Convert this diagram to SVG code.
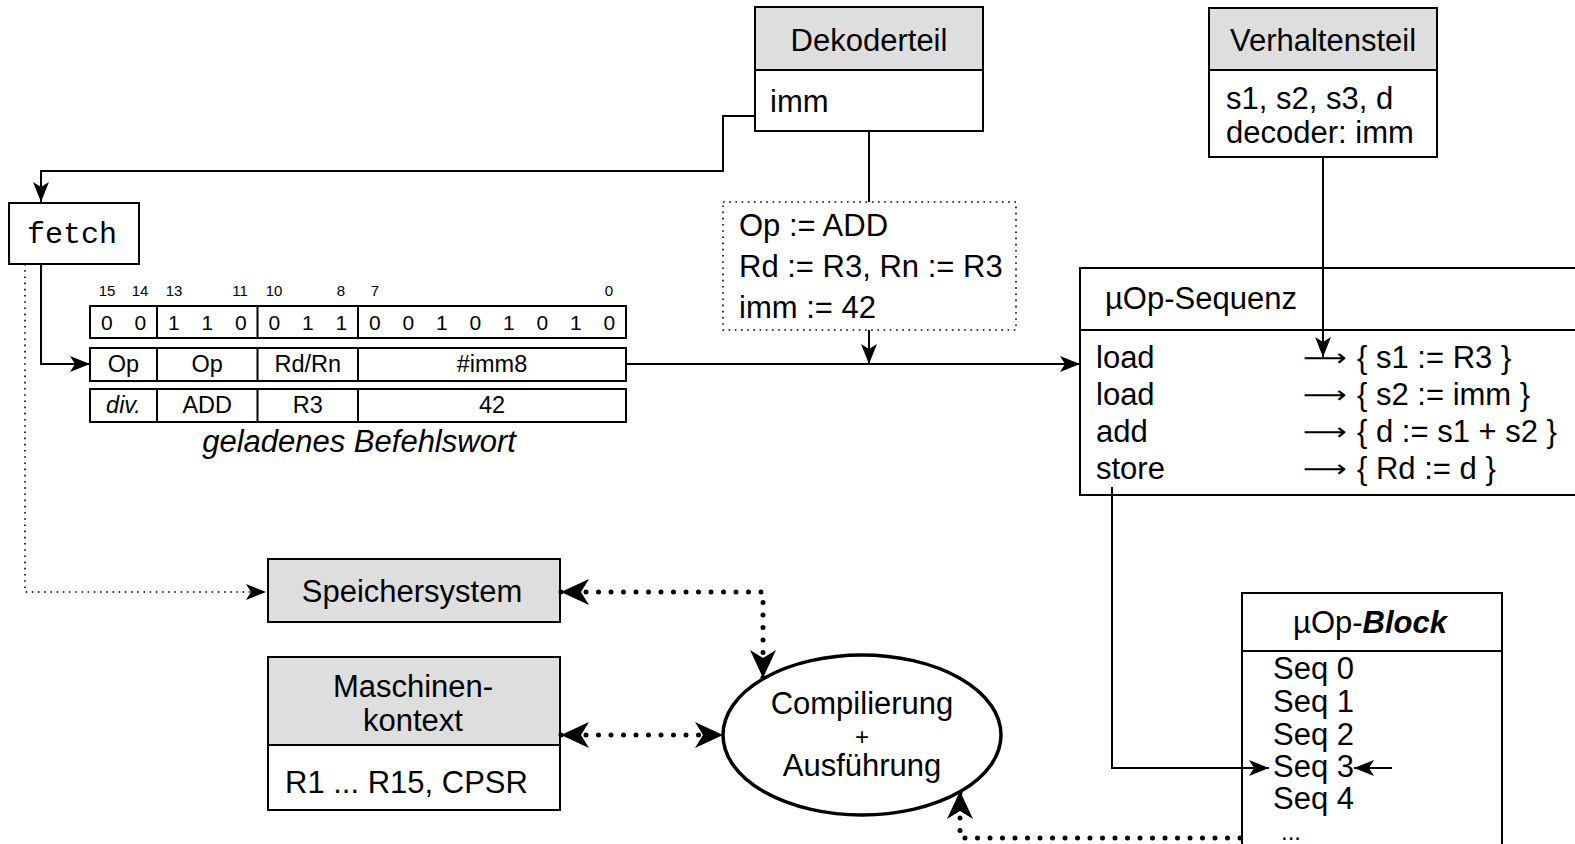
<svg xmlns="http://www.w3.org/2000/svg" width="1575" height="844" viewBox="0 0 1575 844">
<style>
text{font-family:"Liberation Sans",Arial,sans-serif;font-size:31px;fill:#000}
.m{text-anchor:middle}
.t{font-size:23.5px}
.b{font-size:21px}
.s{font-size:15px}
.box{fill:#fff;stroke:#000;stroke-width:2}
.hd{fill:#dedede;stroke:#000;stroke-width:2}
.ln{fill:none;stroke:#000;stroke-width:2}
.dt{fill:none;stroke:#000;stroke-width:1.6;stroke-dasharray:1.6 4.6}
.thick{fill:none;stroke:#000;stroke-width:5;stroke-dasharray:0 12.5;stroke-linecap:round}
.mono{font-family:"Liberation Mono","Courier New",monospace;font-size:30px}
.ar{font-family:"DejaVu Sans",sans-serif;font-size:24px}
</style>
<defs>
<marker id="arr" markerUnits="userSpaceOnUse" viewBox="0 0 20 16" markerWidth="20" markerHeight="16" refX="20" refY="8" orient="auto"><path d="M0,0 L20,8 L0,16 L5,8 Z" fill="#000"/></marker>
<marker id="big" markerUnits="userSpaceOnUse" viewBox="0 0 28 26" markerWidth="28" markerHeight="26" refX="28" refY="13" orient="auto-start-reverse"><path d="M0,0 L28,13 L0,26 L8,13 Z" fill="#000"/></marker>
</defs>
<rect width="1575" height="844" fill="#fff"/>

<g id="dekoderteil">
<rect class="hd" x="755" y="7" width="228" height="63"/>
<rect class="box" x="755" y="70" width="228" height="61"/>
<text class="m" x="869" y="51">Dekoderteil</text>
<text x="770" y="112">imm</text>
</g>

<g id="verhaltensteil">
<rect class="hd" x="1209" y="8" width="228" height="62"/>
<rect class="box" x="1209" y="70" width="228" height="87"/>
<text class="m" x="1323" y="51">Verhaltensteil</text>
<text x="1226" y="109">s1, s2, s3, d<tspan x="1226" y="143">decoder: imm</tspan></text>
</g>

<g id="fetch">
<rect class="box" x="9" y="203" width="130" height="61"/>
<text class="mono" x="27" y="243">fetch</text>
</g>

<g id="befehlswort">
<text class="m s" x="107" y="296">15</text>
<text class="m s" x="140" y="296">14</text>
<text class="m s" x="174" y="296">13</text>
<text class="m s" x="240" y="296">11</text>
<text class="m s" x="274" y="296">10</text>
<text class="m s" x="341" y="296">8</text>
<text class="m s" x="375" y="296">7</text>
<text class="m s" x="609" y="296">0</text>
<rect class="box" x="90" y="306" width="536" height="32"/>
<path class="ln" d="M157,306V338M257.5,306V338M358,306V338"/>
<text class="m b" x="106.75" y="330">0</text>
<text class="m b" x="140.25" y="330">0</text>
<text class="m b" x="173.75" y="330">1</text>
<text class="m b" x="207.25" y="330">1</text>
<text class="m b" x="240.75" y="330">0</text>
<text class="m b" x="274.25" y="330">0</text>
<text class="m b" x="307.75" y="330">1</text>
<text class="m b" x="341.25" y="330">1</text>
<text class="m b" x="374.75" y="330">0</text>
<text class="m b" x="408.25" y="330">0</text>
<text class="m b" x="441.75" y="330">1</text>
<text class="m b" x="475.25" y="330">0</text>
<text class="m b" x="508.75" y="330">1</text>
<text class="m b" x="542.25" y="330">0</text>
<text class="m b" x="575.75" y="330">1</text>
<text class="m b" x="609.25" y="330">0</text>
<rect class="box" x="90" y="348" width="536" height="33"/>
<path class="ln" d="M157,348V381M257.5,348V381M358,348V381"/>
<text class="m t" x="123.5" y="372">Op</text>
<text class="m t" x="207.25" y="372">Op</text>
<text class="m t" x="307.75" y="372">Rd/Rn</text>
<text class="m t" x="492" y="372">#imm8</text>
<rect class="box" x="90" y="389" width="536" height="33"/>
<path class="ln" d="M157,389V422M257.5,389V422M358,389V422"/>
<text class="m t" x="123.5" y="413" font-style="italic">div.</text>
<text class="m t" x="207.25" y="413">ADD</text>
<text class="m t" x="307.75" y="413">R3</text>
<text class="m t" x="492" y="413">42</text>
<text class="m" x="359" y="452" font-style="italic">geladenes Befehlswort</text>
</g>

<g id="dekodierung">
<rect x="723" y="202" width="293" height="128" class="dt"/>
<text x="739" y="236">Op := ADD<tspan x="739" y="277">Rd := R3, Rn := R3</tspan><tspan x="739" y="318">imm := 42</tspan></text>
</g>

<g id="uop-sequenz">
<rect class="box" x="1080" y="268" width="530" height="62"/>
<rect class="box" x="1080" y="330" width="530" height="165"/>
<text x="1105" y="309">µOp-Sequenz</text>
<text x="1096" y="368">load<tspan x="1096" y="405">load</tspan><tspan x="1096" y="442">add</tspan><tspan x="1096" y="479">store</tspan></text>
<text class="ar" x="1303" y="366" textLength="44" lengthAdjust="spacingAndGlyphs">⟶</text>
<text class="ar" x="1303" y="403" textLength="44" lengthAdjust="spacingAndGlyphs">⟶</text>
<text class="ar" x="1303" y="440" textLength="44" lengthAdjust="spacingAndGlyphs">⟶</text>
<text class="ar" x="1303" y="477" textLength="44" lengthAdjust="spacingAndGlyphs">⟶</text>
<text x="1357" y="368">{ s1 := R3 }<tspan x="1357" y="405">{ s2 := imm }</tspan><tspan x="1357" y="442">{ d := s1 + s2 }</tspan><tspan x="1357" y="479">{ Rd := d }</tspan></text>
</g>

<g id="speichersystem">
<rect class="hd" x="268" y="559" width="292" height="63"/>
<text class="m" x="412" y="602">Speichersystem</text>
</g>

<g id="maschinenkontext">
<rect class="hd" x="268" y="657" width="292" height="88"/>
<rect class="box" x="268" y="745" width="292" height="65"/>
<text class="m" x="413" y="697">Maschinen-<tspan x="413" y="731">kontext</tspan></text>
<text x="285" y="793">R1 ... R15, CPSR</text>
</g>

<g id="compilierung">
<ellipse cx="862" cy="735" rx="139" ry="80" fill="#fff" stroke="#000" stroke-width="3.5"/>
<text class="m" x="862" y="714">Compilierung<tspan x="862" y="745" font-size="24">+</tspan><tspan x="862" y="776">Ausführung</tspan></text>
</g>

<g id="uop-block">
<rect class="box" x="1242" y="593" width="260" height="58"/>
<rect class="box" x="1242" y="651" width="260" height="260"/>
<text class="m" x="1370" y="633">µOp-<tspan font-weight="bold" font-style="italic">Block</tspan></text>
<text x="1273" y="679">Seq 0<tspan x="1273" y="712">Seq 1</tspan><tspan x="1273" y="745">Seq 2</tspan><tspan x="1273" y="777">Seq 3</tspan><tspan x="1273" y="809">Seq 4</tspan><tspan x="1281" y="840" font-size="24">...</tspan></text>
</g>

<g id="connectors">
<path class="ln" d="M755,116H723V171H41V202" marker-end="url(#arr)"/>
<path class="ln" d="M41,264V364H90" marker-end="url(#arr)"/>
<path class="dt" d="M25,264V592H266" marker-end="url(#arr)"/>
<path class="ln" d="M626,364H1080" marker-end="url(#arr)"/>
<path class="ln" d="M869,131V202"/>
<path class="ln" d="M869,330V364" marker-end="url(#arr)"/>
<path class="ln" d="M1323,157V357" marker-end="url(#arr)"/>
<path class="ln" d="M1112,487V768H1269" marker-end="url(#arr)"/>
<path class="ln" d="M1392,768H1354" marker-end="url(#arr)"/>
<path class="thick" d="M561,592H763V678" marker-start="url(#big)" marker-end="url(#big)"/>
<path class="thick" d="M561,735H723" marker-start="url(#big)" marker-end="url(#big)"/>
<path class="thick" d="M1240,838H960V791" marker-end="url(#big)"/>
</g>
</svg>
